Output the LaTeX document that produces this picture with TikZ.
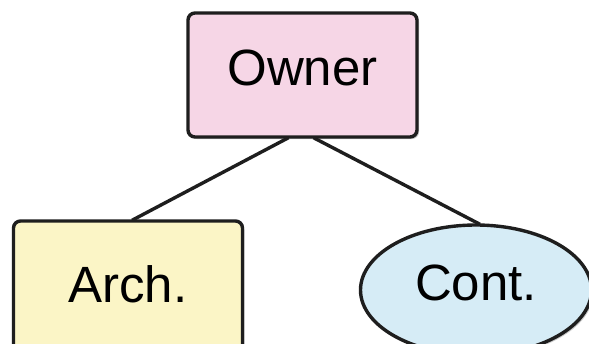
\documentclass[tikz,border=0pt]{standalone}
\usepackage{fontspec}
\setmainfont{Liberation Sans}
\usetikzlibrary{shapes.geometric,shadows}
\definecolor{inkline}{HTML}{1E1E1E}
\definecolor{ownerfill}{HTML}{F6D6E6}
\definecolor{archfill}{HTML}{FBF5C6}
\definecolor{contfill}{HTML}{D6ECF6}
\tikzset{
  box/.style={draw=inkline, line width=3.4pt, rounded corners=7pt,
    font=\fontsize{51}{51}\selectfont, inner sep=0pt,
    drop shadow={shadow xshift=2pt, shadow yshift=-2pt, fill=black!35, opacity=0.6}},
  link/.style={draw=inkline, line width=3.4pt},
}
\begin{document}
\begin{tikzpicture}[x=1pt,y=-1pt]
  \useasboundingbox (0,0) rectangle (589,343);
  \clip (0,0) rectangle (589,343);
  \fill[white] (0,0) rectangle (589,343);
  \node[box, fill=ownerfill, minimum width=229pt, minimum height=124pt,
        text height=38pt, text depth=18pt] (owner) at (302.5,75) {Owner};
  \node[box, fill=archfill, minimum width=229pt, minimum height=160pt,
        text height=30pt, text depth=28pt] (arch) at (128,301) {Arch.};
  \node[box, ellipse, fill=contfill, minimum width=231pt, minimum height=130pt,
        text height=38pt, text depth=18pt] (cont) at (476,290) {Cont.};
  % connectors from the owner down to both children
  \draw[link] ([xshift=-14pt,yshift=1pt]owner.south) -- ([xshift=4pt,yshift=-1pt]arch.north);
  \draw[link] ([xshift=11pt,yshift=1pt]owner.south) -- ([xshift=4pt,yshift=-1pt]cont.north);
\end{tikzpicture}
\end{document}
